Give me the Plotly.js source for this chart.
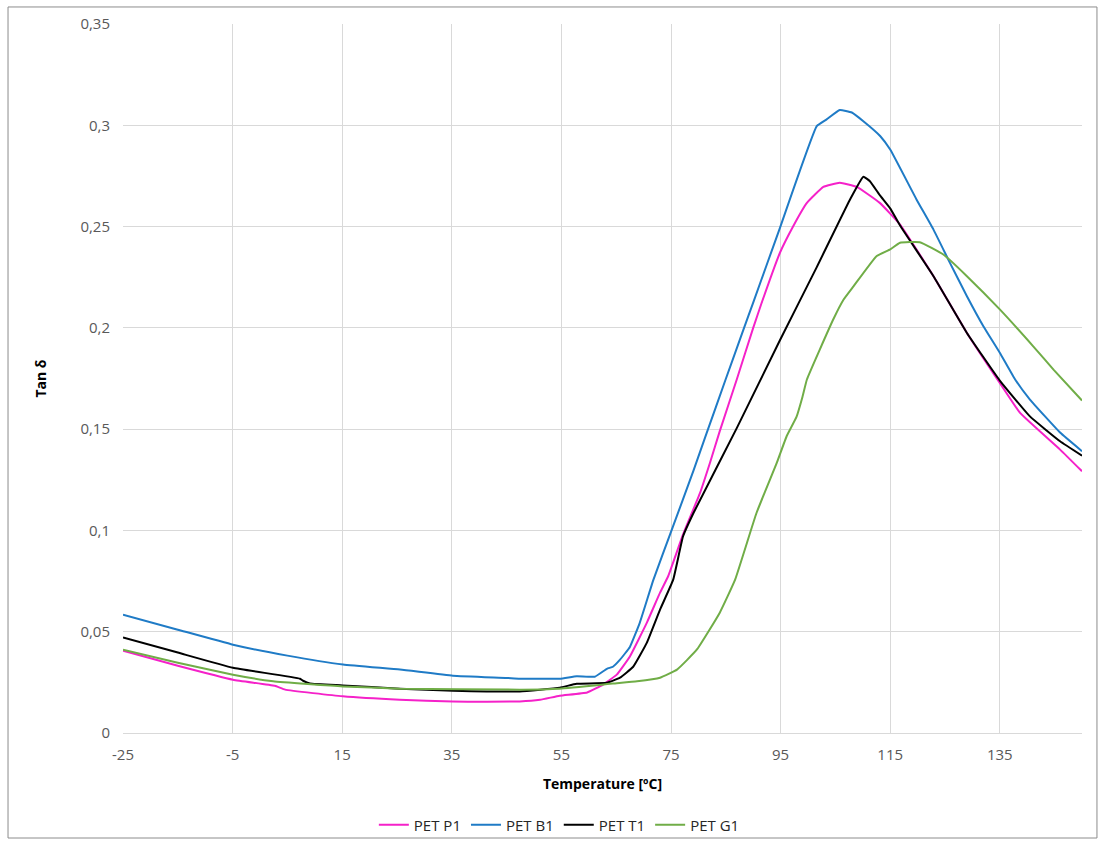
<!DOCTYPE html>
<html>
<head>
<meta charset="utf-8">
<script src="https://cdn.plot.ly/plotly-3.0.1.min.js"></script>
<style>
html,body{margin:0;padding:0;background:#fff;}
#chart{width:1102px;height:843px;}
</style>
</head>
<body>
<div id="chart"></div>
<script>
// Temperature [°C] and tan δ readings for each sample
var tP1 = [-25,-15,-4.93,2.7,4.6,15.1,25.5,35.2,47.4,51.1,54.7,59.7,62.6,65.1,67.5,70.6,73.0,74.5,77.2,80.3,82.1,83.9,87.0,90.0,91.5,94.9,97.3,99.8,102.8,105.8,108.9,113.1,116.8,122.9,129.0,135.0,138.7,146.0,150.0];
var vP1 = [0.0406,0.0332,0.0263,0.0233,0.0214,0.0181,0.0164,0.0155,0.0156,0.0164,0.0184,0.0200,0.0239,0.0288,0.0378,0.0545,0.0693,0.0775,0.0980,0.1185,0.1333,0.1490,0.1745,0.2000,0.2120,0.2372,0.2502,0.2617,0.2696,0.2716,0.2696,0.2617,0.2510,0.2255,0.1975,0.1728,0.1580,0.1399,0.1292];

var tB1 = [-25,-15,-4.93,5,15.15,25.55,35.2,45,47.4,54.7,57.8,61.1,63.3,64.4,65.7,67.5,69.3,71.8,75.1,79.1,81.5,84.9,88.2,90.0,94.9,101.6,103.4,105.8,108.0,110.1,113.2,115.0,119.8,122.9,125.9,129.0,132.0,135.0,137.8,140.5,146.0,150.0];
var vB1 = [0.0584,0.0510,0.0436,0.0382,0.0338,0.0313,0.0283,0.0272,0.0268,0.0268,0.0280,0.0278,0.0317,0.0327,0.0362,0.0425,0.0544,0.0757,0.1000,0.1295,0.1480,0.1740,0.1990,0.2125,0.2495,0.2996,0.3029,0.3075,0.3063,0.3020,0.2946,0.2880,0.2634,0.2485,0.2321,0.2156,0.2008,0.1877,0.1745,0.1646,0.1483,0.1391];

var tT1 = [-25,-15,-4.93,7.3,7.85,9.1,15.1,25.5,35.2,47.4,54.7,57.8,63.3,65.7,68.1,70.6,73.0,75.4,77.2,79.1,87.0,94.9,101.6,107.6,110.1,111.3,113.1,115.0,116.8,122.9,129.0,135.0,140.5,146.0,150.0];
var vT1 = [0.0472,0.0397,0.0322,0.0268,0.0258,0.0244,0.0235,0.0219,0.0209,0.0205,0.0224,0.0243,0.0248,0.0273,0.0327,0.0446,0.0609,0.0757,0.0971,0.1086,0.1505,0.1940,0.2300,0.2630,0.2746,0.2724,0.2655,0.2590,0.2505,0.2255,0.1975,0.1740,0.1563,0.1440,0.1369];

var tG1 = [-25,-15,-4.93,2.4,15.1,25.5,47.4,54.7,64.4,68.8,73.0,76.1,79.7,83.9,86.7,90.6,94.3,96.1,97.9,99.0,99.8,104.6,106.5,108.3,112.5,115.0,116.8,120.4,124.7,129.0,135.0,141.1,144.8,150.0];
var vG1 = [0.0411,0.0347,0.0288,0.0255,0.0230,0.0219,0.0214,0.0219,0.0244,0.0255,0.0273,0.0313,0.0411,0.0594,0.0757,0.1086,0.1333,0.1465,0.1560,0.1660,0.1745,0.2041,0.2140,0.2205,0.2354,0.2387,0.2420,0.2423,0.2362,0.2255,0.2091,0.1909,0.1794,0.1641];

var seriesNames = ['PET P1','PET B1','PET T1','PET G1'];
var seriesColors = ['#F521C9','#1F7BC6','#000000','#70AD47'];

var xTickVals = [-25,-5,15,35,55,75,95,115,135];
var xTickText = ['-25','-5','15','35','55','75','95','115','135'];

var xs = [tP1,tB1,tT1,tG1];
var ys = [vP1,vB1,vT1,vG1];

var traces = xs.map(function(x,i){
  return {
    type:'scatter', mode:'lines', x:x, y:ys[i], name:seriesNames[i],
    line:{color:seriesColors[i], width:2, shape:'spline', smoothing:0.35}
  };
});

var layout = {
  width:1102, height:843,
  paper_bgcolor:'#ffffff', plot_bgcolor:'#ffffff',
  margin:{l:123, r:20, t:24, b:110},
  separators:', ',
  font:{family:'"Open Sans", "Noto Sans", sans-serif', size:15, color:'#595959'},
  showlegend:true,
  legend:{orientation:'h', x:0.455, xanchor:'center', xref:'paper',
          y:0.0214, yanchor:'middle', yref:'container',
          bgcolor:'rgba(0,0,0,0)',
          font:{size:15, color:'#262626'}, traceorder:'normal'},
  xaxis:{
    range:[-25,150], tickvals:xTickVals, ticktext:xTickText, automargin:false,
    showgrid:true, gridcolor:'#d9d9d9', gridwidth:1,
    zeroline:false, showline:true, linecolor:'#d9d9d9', linewidth:1, ticks:'',
    ticklabelstandoff:8,
    tickfont:{size:15, color:'#595959'},
    title:{text:'<b>Temperature [ºC]</b>', font:{size:14, color:'#000000'}, standoff:16}
  },
  yaxis:{
    range:[0,0.35], dtick:0.05, automargin:false,
    showgrid:true, gridcolor:'#d9d9d9', gridwidth:1,
    zeroline:false, showline:false, ticks:'',
    ticklabelstandoff:12,
    tickfont:{size:15, color:'#595959'},
    title:{text:'<b>Tan δ</b>', font:{size:14, color:'#000000'}, standoff:30}
  },
  shapes:[{type:'rect', xref:'paper', yref:'paper', x0:-0.1199, x1:1.0156, y0:-0.1481, y1:1.024,
           line:{color:'#8c8c8c', width:1}, fillcolor:'rgba(0,0,0,0)', layer:'below'}]
};

Plotly.newPlot('chart', traces, layout, {displayModeBar:false, staticPlot:true});
</script>
</body>
</html>
